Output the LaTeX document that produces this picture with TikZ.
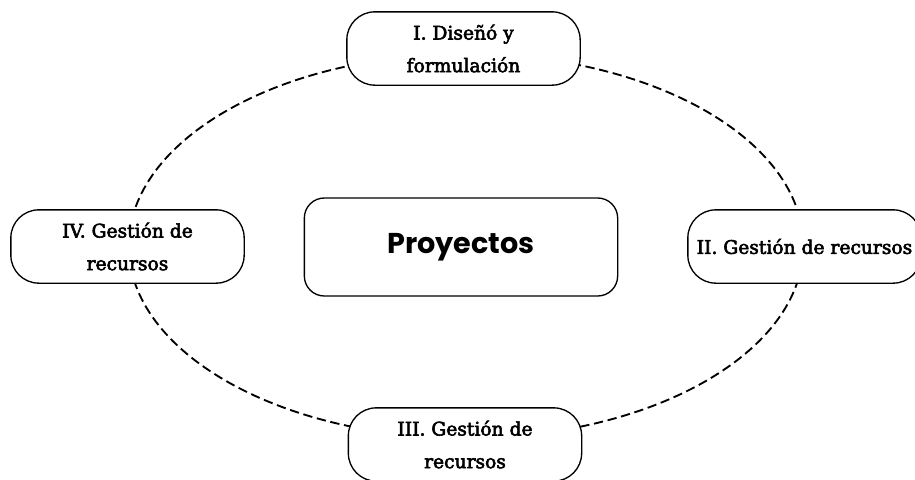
\documentclass[tikz,border=0pt]{standalone}
\usepackage{fontspec}
\setmainfont{DejaVu Serif}
\newfontfamily\fasefont{DejaVu Serif}[FakeBold=3]
\newfontfamily\titulofont{Poppins}
\usepackage{tikz}

\begin{document}
\begin{tikzpicture}[x=0.75pt,y=-0.75pt,
  fase/.style={draw,fill=white,line width=1pt,rounded corners=21pt,align=center,
    minimum width=175pt,minimum height=55pt,inner sep=2pt,
    font={\fasefont\fontsize{14}{24.5}\selectfont}},
  ciclo/.style={line width=1.4pt,dash pattern=on 7pt off 3.5pt}]
\useasboundingbox[fill=white] (0,0) rectangle (915,479);
\coordinate (eje) at (466,246);
\draw[ciclo] (eje) ellipse [x radius=253pt, y radius=144pt];
\node[draw,fill=white,line width=1pt,rounded corners=15pt,minimum width=235pt,
  minimum height=73.5pt,font={\titulofont\bfseries\fontsize{21.5}{24}\selectfont}]
  (centro) at (461,247) {Proyectos};
\node[fase] (f1) at (463.5,48.5) {I. Diseñó y\\formulación};
\node[fase] (f2) at (804.5,246.5) {II. Gestión de recursos};
\node[fase] (f3) at (465,444.5) {III. Gestión de\\recursos};
\node[fase] (f4) at (127.5,246.5) {IV. Gestión de\\recursos};
\end{tikzpicture}
\end{document}
